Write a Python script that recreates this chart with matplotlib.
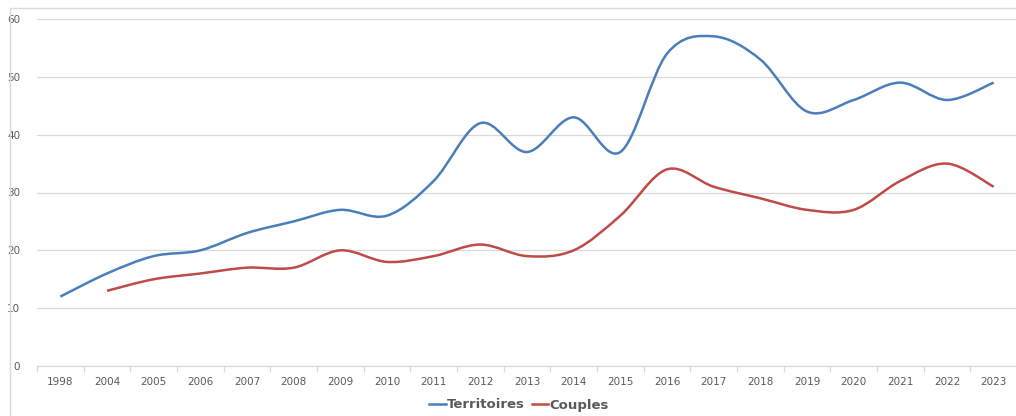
import matplotlib

matplotlib.use("Agg")
import matplotlib.pyplot as plt
import numpy as np
from matplotlib.patches import PathPatch, Rectangle
from matplotlib.path import Path
from matplotlib.lines import Line2D

years = ["1998", "2004", "2005", "2006", "2007", "2008", "2009", "2010", "2011",
         "2012", "2013", "2014", "2015", "2016", "2017", "2018", "2019", "2020",
         "2021", "2022", "2023"]
territoires = [12, 16, 19, 20, 23, 25, 27, 26, 32, 42, 37, 43, 37, 54, 57, 53,
               44, 46, 49, 46, 49]
couples = [None, 13, 15, 16, 17, 17, 20, 18, 19, 21, 19, 20, 26, 34, 31, 29,
           27, 27, 32, 35, 31]

BLUE = "#4a7ebb"
RED = "#be4b48"
GRID = "#d9d9d9"
TEXT = "#595959"


def smooth_path(xs, ys):
    """Excel-style smoothed line as cubic Bezier segments through the points."""
    pts = np.column_stack([xs, ys]).astype(float)
    verts = [pts[0]]
    codes = [Path.MOVETO]
    n = len(pts)
    for i in range(n - 1):
        p0 = pts[i - 1] if i > 0 else pts[i]
        p1, p2 = pts[i], pts[i + 1]
        p3 = pts[i + 2] if i + 2 < n else pts[i + 1]
        c1 = p1 + (p2 - p0) / 6
        c2 = p2 - (p3 - p1) / 6
        verts += [c1, c2, p2]
        codes += [Path.CURVE4] * 3
    return Path(verts, codes)


fig = plt.figure(figsize=(10.16, 4.16), dpi=100)
ax = fig.add_axes([37 / 1016, 50 / 416, 980 / 1016, 347 / 416])

x = np.arange(len(years))
for series, color in [(territoires, BLUE), (couples, RED)]:
    idx = [i for i, v in enumerate(series) if v is not None]
    path = smooth_path(x[idx], [series[i] for i in idx])
    ax.add_patch(PathPatch(path, facecolor="none", edgecolor=color, lw=1.8,
                           capstyle="butt", joinstyle="round", zorder=3))

ax.set_xlim(-0.5, len(years) - 0.5)
ax.set_ylim(0, 60)
ax.set_yticks(range(0, 61, 10))
ax.set_xticks(x)
ax.set_xticklabels(years)
ax.set_xticks(np.arange(-0.5, len(years)), minor=True)
ax.grid(axis="y", color=GRID, lw=0.9, zorder=0)
ax.set_axisbelow(True)
for side in ["top", "right", "left"]:
    ax.spines[side].set_visible(False)
ax.spines["bottom"].set_color(GRID)
ax.tick_params(axis="x", which="major", length=0, pad=8, labelsize=7.5, colors=TEXT)
ax.tick_params(axis="x", which="minor", length=4, color=GRID, width=0.9)
ax.tick_params(axis="y", length=0, pad=12, labelsize=7.5, colors=TEXT)

handles = [Line2D([], [], color=BLUE, lw=1.8), Line2D([], [], color=RED, lw=1.8)]
leg = fig.legend(handles, ["Territoires", "Couples"], loc="center",
                 bbox_to_anchor=(519 / 1016, 1 - 405 / 416), ncol=2, frameon=False,
                 handlelength=1.25, handletextpad=0.1, columnspacing=0.5,
                 prop={"weight": "bold", "size": 9.5})
for t in leg.get_texts():
    t.set_color(TEXT)

fig.patches.append(Rectangle((10 / 1016, -0.1), 1.1, 1 - 8 / 416 + 0.1,
                             transform=fig.transFigure, fill=False,
                             edgecolor=GRID, lw=1))

fig.savefig("out.png", dpi=100)
